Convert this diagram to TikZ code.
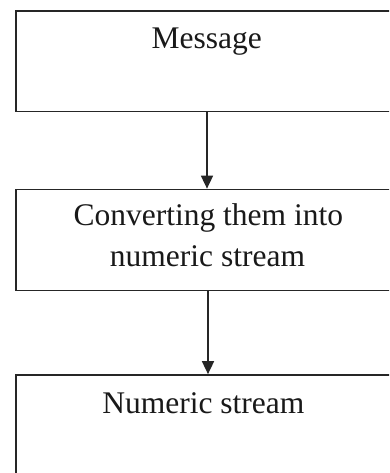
\documentclass[tikz,border=0pt]{standalone}
\usepackage{fontspec}
\setmainfont{Liberation Serif}
\usetikzlibrary{arrows.meta}
\tikzset{
  flowbox/.style={draw=black!85, line width=1.7pt, rectangle, inner sep=0pt,
    minimum width=382pt},
  label text/.style={anchor=base, inner sep=0pt,
    font=\fontsize{31.5}{41}\selectfont, text=black!90},
  flow/.style={draw=black!85, line width=1.6pt,
    -{Triangle[length=13pt,width=12pt]}}
}
\begin{document}
\begin{tikzpicture}[x=1pt,y=-1pt]
  \useasboundingbox (0,0) rectangle (389,473);
  \clip (0,0) rectangle (389,473);
  \fill[white] (0,0) rectangle (389,473);

  % the three stages
  \node[flowbox, minimum height=100.5pt] (msg)  at (206.7,61.25) {};
  \node[flowbox, minimum height=101pt]   (conv) at (206.7,240) {};
  \node[flowbox, minimum height=110pt]   (num)  at (206.7,430) {};

  % captions
  \node[label text] (msgtext)   at (206.7,48.3) {Message};
  \node[label text] (convtext1) at (208.3,225)  {Converting them into};
  \node[label text] (convtext2) at (207.5,266)  {numeric stream};
  \node[label text] (numtext)   at (203.3,413)  {Numeric stream};

  % flow arrows
  \draw[flow] ([xshift=0.3pt]msg.south) -- ([xshift=0.3pt]conv.north);
  \draw[flow] ([xshift=1.3pt]conv.south) -- ([xshift=1.3pt]num.north);
\end{tikzpicture}
\end{document}
